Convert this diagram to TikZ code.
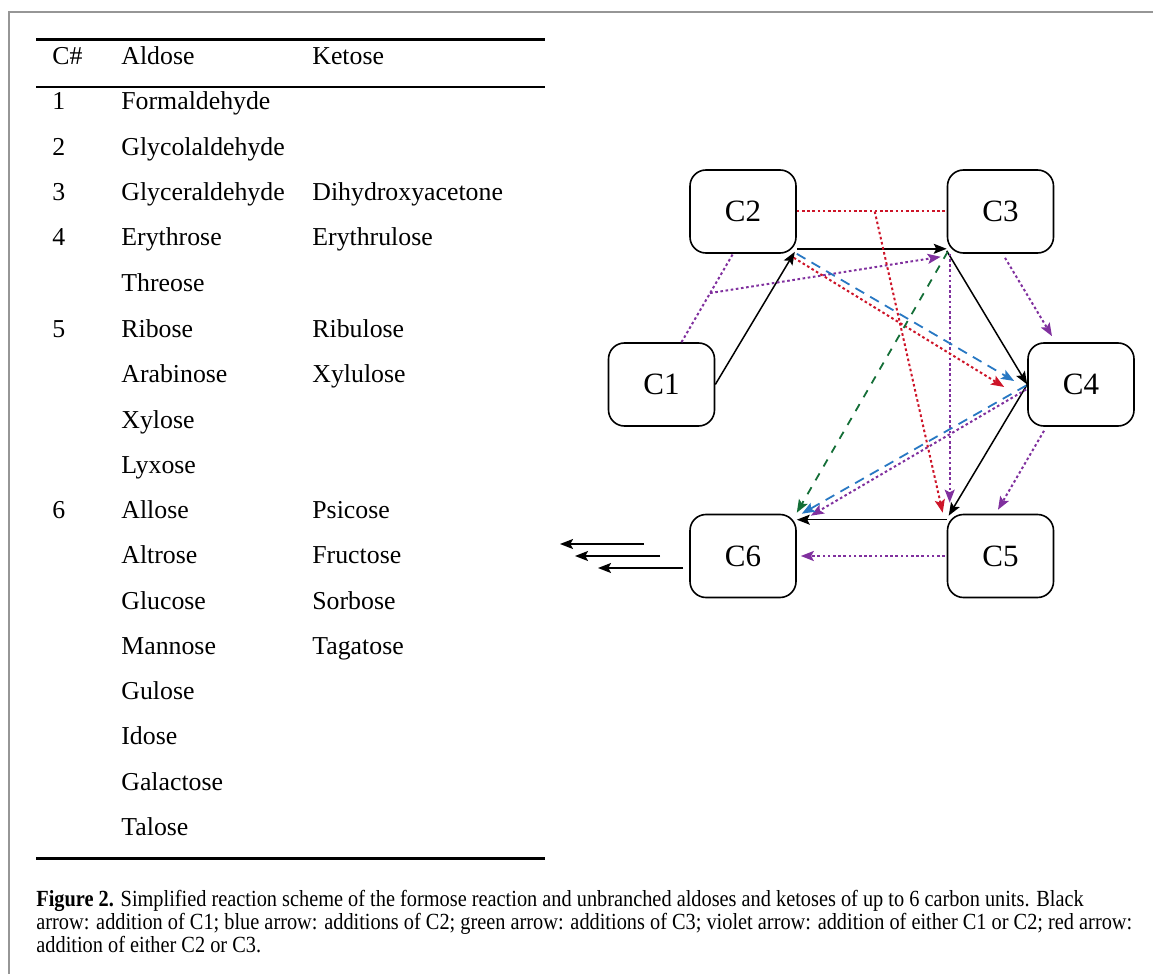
\documentclass[tikz,border=0pt]{standalone}
\usepackage{fontspec}
\setmainfont{Liberation Serif}
\newfontfamily\capfont[FakeStretch=0.88]{Liberation Serif}
\usetikzlibrary{arrows.meta,calc}
\definecolor{vio}{RGB}{128,48,158}
\definecolor{rd}{RGB}{205,20,40}
\definecolor{bl}{RGB}{40,120,195}
\definecolor{gr}{RGB}{20,110,55}
\definecolor{frm}{RGB}{150,150,150}
\tikzset{
  cbox/.style={draw, rounded corners=8pt, minimum width=53pt, minimum height=41.5pt, inner sep=0pt, line width=0.8pt, font=\fontsize{15.5}{18}\selectfont},
  cell/.style={anchor=base west, inner sep=0pt, font=\fontsize{12.9}{15}\selectfont},
  captext/.style={anchor=base west, inner sep=0pt, font=\capfont\fontsize{11.55}{13}\selectfont},
  arrtip/.style={-{Stealth[length=6.5pt,width=5pt,inset=1.3pt]}},
  blk/.style={line width=0.75pt, arrtip},
  vdot/.style={vio, line width=1pt, dash pattern=on 1.3pt off 1.3pt},
  varr/.style={vdot, arrtip},
  rdot/.style={rd, line width=1pt, dash pattern=on 1.3pt off 1.3pt},
  rarr/.style={rdot, arrtip},
  barr/.style={bl, line width=0.9pt, dash pattern=on 5pt off 3.5pt, arrtip},
  garr/.style={gr, line width=0.9pt, dash pattern=on 4pt off 4pt, arrtip},
  tabrule/.style={line width=1.5pt}
}
\begin{document}
\begin{tikzpicture}[x=0.5pt,y=-0.5pt]
\useasboundingbox (0,0) rectangle (1153,974);
% frame
\draw[frm, line width=1pt] (9,974) -- (9,12) -- (1153,12);
% table rules
\draw[tabrule] (36,40) -- (545,40);
\draw[line width=1.2pt] (36,87) -- (545,87);
\draw[tabrule] (36,858) -- (545,858);
% header
\node[cell] (hC) at (52,65) {C\#};
\node[cell] (hA) at (121,65) {Aldose};
\node[cell] (hK) at (312,65) {Ketose};
% numbers
\foreach \y/\t [count=\i] in {110/1,156/2,201/3,246/4,337/5,518/6}
  \node[cell] (n\i) at (52,\y) {\t};
% aldoses
\foreach \y/\t [count=\i] in {110/Formaldehyde,156/Glycolaldehyde,201/Glyceraldehyde,246/Erythrose,292/Threose,337/Ribose,382/Arabinose,428/Xylose,473/Lyxose,518/Allose,563/Altrose,609/Glucose,654/Mannose,699/Gulose,744/Idose,790/Galactose,835/Talose}
  \node[cell] (a\i) at (121,\y) {\t};
% ketoses
\foreach \y/\t [count=\i] in {201/Dihydroxyacetone,246/Erythrulose,337/Ribulose,382/Xylulose,518/Psicose,563/Fructose,609/Sorbose,654/Tagatose}
  \node[cell] (k\i) at (312,\y) {\t};
% caption
\node[captext] (cap1) at (36,906) {\textbf{Figure 2.} Simplified reaction scheme of the formose reaction and unbranched aldoses and ketoses of up to 6 carbon units. Black};
\node[captext] (cap2) at (36,929) {arrow: addition of C1; blue arrow: additions of C2; green arrow: additions of C3; violet arrow: addition of either C1 or C2; red arrow:};
\node[captext] (cap3) at (36,952) {addition of either C2 or C3.};
% boxes
\node[cbox] (C1) at (661.5,384.5) {C1};
\node[cbox] (C2) at (743,211.5) {C2};
\node[cbox] (C3) at (1000.5,211.5) {C3};
\node[cbox] (C4) at (1081,384.5) {C4};
\node[cbox] (C5) at (1000.5,556) {C5};
\node[cbox] (C6) at (743,556) {C6};
% black arrows
\draw[blk] (C1.east) -- ($(C2.south east)+(-2,-2)$);
\draw[blk] ($(C2.south east)+(0,-5)$) -- ($(C3.south west)+(0,-5)$);
\draw[blk] ($(C3.south west)+(0,-3)$) -- (C4.west);
\draw[blk] (C4.west) -- ($(C5.north west)+(2,2)$);
\draw[blk] ($(C5.north west)+(0,6)$) -- ($(C6.north east)+(0,6)$);
\coordinate (o1s) at (644,544); \coordinate (o1e) at (560,544);
\coordinate (o2s) at (660,556); \coordinate (o2e) at (575,556);
\coordinate (o3s) at (683,568); \coordinate (o3e) at (598,568);
\draw[blk] (o1s) -- (o1e);
\draw[blk] (o2s) -- (o2e);
\draw[blk] (o3s) -- (o3e);
% violet
\coordinate (v1a) at ($(C1.north)+(20,0)$);
\coordinate (v1b) at ($(C2.south)+(-10,0)$);
\coordinate (J1) at ($(v1a)!0.556!(v1b)$);
\draw[vdot] (v1a) -- (v1b);
\draw[varr] (J1) -- ($(C3.south west)+(-6,3)$);
\draw[varr] ($(C3.south west)+(3,0)$) -- ($(C5.north west)+(3,-11)$);
\draw[varr] ($(C3.south)+(4.5,4)$) -- ($(C4.north)+(-29,-6)$);
\draw[varr] ($(C4.south)+(-37,4)$) -- ($(C5.north)+(-2.5,-4)$);
\draw[varr] ($(C4.west)+(-1,5)$) -- ($(C6.north east)+(14,2)$);
\draw[varr] ($(C5.west)+(-2,0)$) -- ($(C6.east)+(4,0)$);
% red
\draw[rdot] (C2.east) -- (C3.west);
\coordinate (J2) at ($(C2.east)!0.52!(C3.west)$);
\draw[rarr] (J2) -- ($(C5.north west)+(-4,-1)$);
\draw[rarr] ($(C2.south east)+(-3,4)$) -- ($(C4.west)+(-23,2.5)$);
% blue
\draw[barr] (C2.south east) -- ($(C4.west)+(-13,-3.5)$);
\draw[barr] ($(C4.west)+(-1,1)$) -- ($(C6.north east)+(5,0)$);
% green
\draw[garr] ($(C3.south west)+(1,-2)$) -- ($(C6.north east)+(0,-1)$);
\end{tikzpicture}
\end{document}
